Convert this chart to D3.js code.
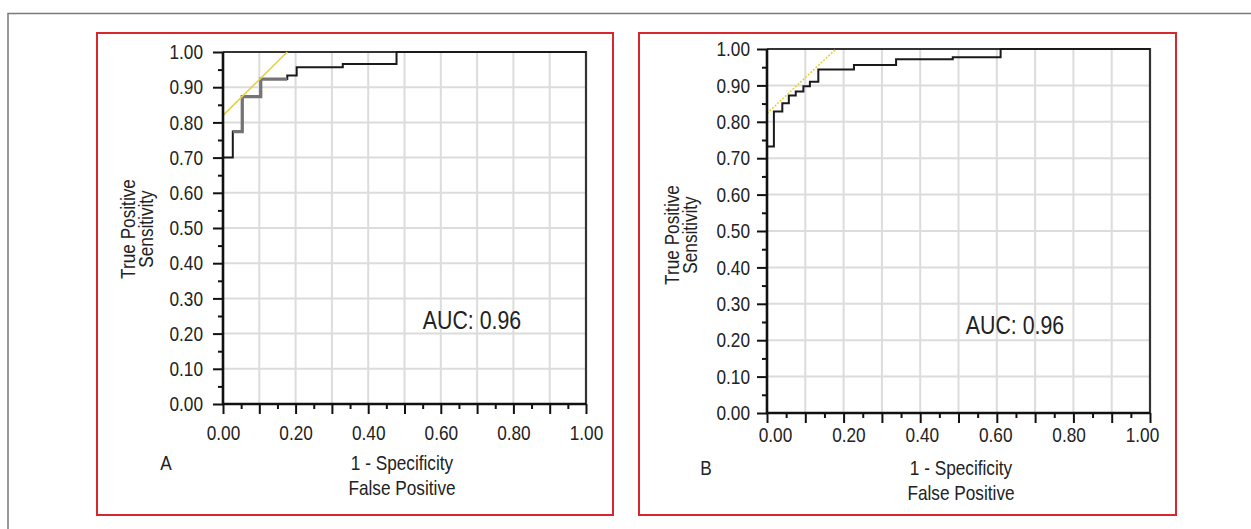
<!DOCTYPE html>
<html><head><meta charset="utf-8">
<script src="https://cdn.jsdelivr.net/npm/d3@7"></script>
<style>
html,body{margin:0;padding:0;background:#fff;}
svg{display:block;}
text{font-family:"Liberation Sans",Arial,sans-serif;fill:#222;}
</style></head>
<body>
<svg id="chart" width="1251" height="529"></svg>
<script>
// ---------- data ----------
const panelLabels = ["A", "B"];
const xTitle = ["1 - Specificity", "False Positive"];
const yTitle = ["True Positive", "Sensitivity"];
const aucLabels = ["AUC: 0.96", "AUC: 0.96"];
const majorTicks = [0,0.1,0.2,0.3,0.4,0.5,0.6,0.7,0.8,0.9,1.0];
const minorTicks = [0.05,0.15,0.25,0.35,0.45,0.55,0.65,0.75,0.85,0.95];
const xLabelTicks = [0,0.2,0.4,0.6,0.8,1.0];
const yLabelTicks = [0,0.1,0.2,0.3,0.4,0.5,0.6,0.7,0.8,0.9,1.0];

// Panel A ROC (black) – vertical jump happens at each FPR value
const rocA_fpr = [0, 0, 0.027, 0.053, 0.104, 0.177, 0.203, 0.330, 0.478, 1.0];
const rocA_tpr = [0, 0.700, 0.774, 0.873, 0.923, 0.933, 0.957, 0.966, 1.0, 1.0];
// Panel A second ROC (grey, overlapping part)
const rocA2_fpr = [0.027, 0.053, 0.104, 0.177];
const rocA2_tpr = [0.774, 0.873, 0.923, 0.923];
// Panel A tangent (yellow)
const tanA_fpr = [0, 0.177];
const tanA_tpr = [0.820, 1.0];

// Panel B ROC
const rocB_fpr = [0, 0, 0.018, 0.040, 0.057, 0.075, 0.095, 0.112, 0.134, 0.227, 0.337, 0.485, 0.610, 1.0];
const rocB_tpr = [0, 0.732, 0.828, 0.851, 0.872, 0.883, 0.898, 0.910, 0.944, 0.956, 0.972, 0.977, 1.0, 1.0];
// Panel B tangent (yellow, dotted)
const tanB_fpr = [0, 0.180];
const tanB_tpr = [0.823, 1.0];

// ---------- layout ----------
const svg = d3.select("#chart");
const FONT = 21;
const SQ = 0.82; // horizontal condensing of the narrow typeface

// condense text horizontally, keeping its anchor point
function condense(sel){
  sel.each(function(){
    const t = d3.select(this);
    const x = +(t.attr("x")||0);
    const pre = t.attr("transform")||"";
    t.attr("x",0).attr("transform",`${pre} translate(${x},0) scale(${SQ},1)`);
  });
}

// outer frame (top + left)
svg.append("path").attr("d","M8,529 L8,13.5 L1251,13.5")
  .attr("fill","none").attr("stroke","#7a7a7a").attr("stroke-width",1.5);

const panels = [
  {box:[97,33,613,515], x:[223,586], y:[404,52], xl:[223,586], xlab:21, ypad:10,
   roc:[rocA_fpr,rocA_tpr], roc2:[rocA2_fpr,rocA2_tpr], tan:[tanA_fpr,tanA_tpr], dash:null,
   auc:[472,329], letter:[166,470], xt:[402,470,495], yt:[135,153,229]},
  {box:[639,33,1176,515], x:[767,1150], y:[413,49], xl:[775,1142], xlab:14, ypad:7,
   roc:[rocB_fpr,rocB_tpr], roc2:null, tan:[tanB_fpr,tanB_tpr], dash:"2,1.5",
   auc:[1015,334], letter:[706,475], xt:[961,475,500], yt:[679,697,235]}
];

panels.forEach((p,i)=>{
  const g = svg.append("g");
  // red box
  g.append("rect").attr("x",p.box[0]).attr("y",p.box[1])
    .attr("width",p.box[2]-p.box[0]).attr("height",p.box[3]-p.box[1])
    .attr("fill","none").attr("stroke","#d8262f").attr("stroke-width",2);

  const x = d3.scaleLinear().domain([0,1]).range(p.x);
  const y = d3.scaleLinear().domain([0,1]).range(p.y);
  const xl = d3.scaleLinear().domain([0,1]).range(p.xl);

  // grid
  const inner = majorTicks.filter(v=>v>0 && v<1);
  g.selectAll(".gx"+i).data(inner).join("line")
    .attr("x1",d=>x(d)).attr("x2",d=>x(d)).attr("y1",y(0)).attr("y2",y(1))
    .attr("stroke","#dcdcdc").attr("stroke-width",2);
  g.selectAll(".gy"+i).data(inner).join("line")
    .attr("y1",d=>y(d)).attr("y2",d=>y(d)).attr("x1",x(0)).attr("x2",x(1))
    .attr("stroke","#dcdcdc").attr("stroke-width",2);

  // top/right frame
  g.append("path").attr("d",`M${x(0)},${y(1)} L${x(1)},${y(1)} L${x(1)},${y(0)}`)
    .attr("fill","none").attr("stroke","#333").attr("stroke-width",2.2);

  // curves
  const line = d3.line().x(d=>x(d[0])).y(d=>y(d[1])).curve(d3.curveStepAfter);
  const pts = p.roc[0].map((f,k)=>[f,p.roc[1][k]]);
  g.append("path").attr("d",line(pts)).attr("fill","none")
    .attr("stroke","#1a1a1a").attr("stroke-width",2);
  if(p.roc2){
    const pts2 = p.roc2[0].map((f,k)=>[f,p.roc2[1][k]]);
    g.append("path").attr("d",line(pts2)).attr("fill","none")
      .attr("stroke","#747474").attr("stroke-width",3.2);
  }
  const tl = d3.line().x(d=>x(d[0])).y(d=>y(d[1]));
  const tp = p.tan[0].map((f,k)=>[f,p.tan[1][k]]);
  const tpath = g.append("path").attr("d",tl(tp)).attr("fill","none")
    .attr("stroke","#e6d23c").attr("stroke-width",1.6);
  if(p.dash) tpath.attr("stroke-dasharray",p.dash);

  // axes
  const styleAxis = sel=>{
    sel.select(".domain").remove();
    sel.selectAll("line").attr("stroke","#111").attr("stroke-width",2);
    sel.selectAll("text").style("font-size",FONT+"px").attr("fill","#222").call(condense);
  };
  g.append("g").attr("transform",`translate(0,${y(0)})`)
    .call(d3.axisBottom(x).tickValues(majorTicks).tickSize(10).tickFormat(""))
    .call(styleAxis);
  g.append("g").attr("transform",`translate(0,${y(0)})`)
    .call(d3.axisBottom(x).tickValues(minorTicks).tickSize(5).tickFormat(""))
    .call(styleAxis);
  g.append("g").attr("transform",`translate(0,${y(0)})`)
    .call(d3.axisBottom(xl).tickValues(xLabelTicks).tickSize(0).tickPadding(p.xlab).tickFormat(d3.format(".2f")))
    .call(styleAxis).selectAll("line").remove();
  g.append("g").attr("transform",`translate(${x(0)},0)`)
    .call(d3.axisLeft(y).tickValues(yLabelTicks).tickSize(10).tickPadding(p.ypad).tickFormat(d3.format(".2f")))
    .call(styleAxis);
  g.append("g").attr("transform",`translate(${x(0)},0)`)
    .call(d3.axisLeft(y).tickValues(minorTicks).tickSize(5).tickFormat(""))
    .call(styleAxis);
  g.append("path").attr("d",`M${x(0)},${y(1)} L${x(0)},${y(0)} L${x(1)},${y(0)}`)
    .attr("fill","none").attr("stroke","#111").attr("stroke-width",2.6);

  // texts
  const txt = (px,py,s,size,rot)=>{
    const t = g.append("text").attr("text-anchor","middle").style("font-size",size+"px").text(s);
    t.attr("transform",`translate(${px},${py})${rot?" rotate(-90)":""} scale(${SQ},1)`);
  };
  txt(p.auc[0],p.auc[1],aucLabels[i],26,false);
  txt(p.letter[0],p.letter[1],panelLabels[i],FONT,false);
  txt(p.xt[0],p.xt[1],xTitle[0],FONT,false);
  txt(p.xt[0],p.xt[2],xTitle[1],FONT,false);
  txt(p.yt[0],p.yt[2],yTitle[0],FONT,true);
  txt(p.yt[1],p.yt[2],yTitle[1],FONT,true);
});
</script>
</body></html>
